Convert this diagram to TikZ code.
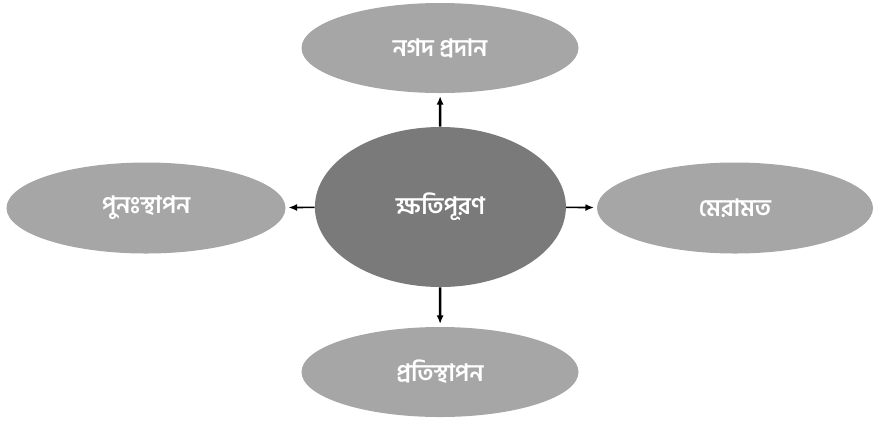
\documentclass[tikz,border=0pt]{standalone}
\usepackage{fontspec}
\usepackage{xcolor}
\usepackage{tikz}
\usetikzlibrary{shapes.geometric, arrows.meta}
\newfontfamily\bnfont[Script=Bengali]{Hind Siliguri}
\definecolor{centercolor}{RGB}{122, 122, 122}
\definecolor{outercolor}{RGB}{166, 166, 166}

\begin{document}
\begin{tikzpicture}[
        outernode/.style={ellipse, fill=outercolor, text=white, font=\bnfont\bfseries\fontsize{17}{19}\selectfont},
        linkarrow/.style={-{Latex[length=6pt,width=5pt]}, line width=1.8pt, shorten >=2pt}
    ]
        \useasboundingbox (0, 0) rectangle (21.85, -10.55);

        % Central idea
        \node[ellipse, fill=centercolor, text=white, minimum width=6.275cm, minimum height=4cm,
              font=\bnfont\bfseries\fontsize{17}{19}\selectfont] (center) at (11.01, -5.175) {ক্ষতিপূরণ};

        % Options around it
        \node[outernode, minimum width=6.925cm, minimum height=2.25cm] (cash) at (11.0, -1.2) {নগদ প্রদান};
        \node[outernode, minimum width=6.975cm, minimum height=2.275cm] (restore) at (3.65, -5.2) {পুনঃস্থাপন};
        \node[outernode, minimum width=6.9cm, minimum height=2.275cm] (repair) at (18.375, -5.2) {মেরামত};
        \node[outernode, minimum width=6.925cm, minimum height=2.25cm] (replace) at (11.0, -9.3) {প্রতিস্থাপন};

        % Arrows
        \draw[linkarrow] (center) -- (cash);
        \draw[linkarrow] (center) -- (replace);
        \draw[linkarrow, line width=1.1pt] (center) -- (restore);
        \draw[linkarrow, line width=1.1pt] (center) -- (repair);

    \end{tikzpicture}
\end{document}
